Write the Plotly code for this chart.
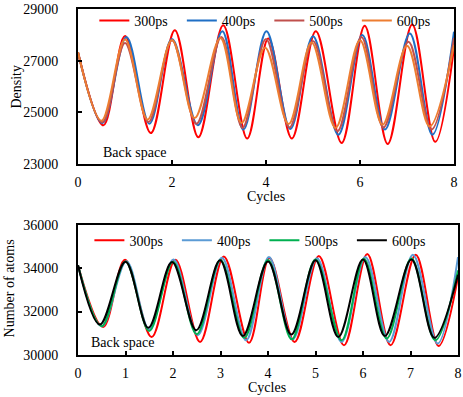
import plotly.graph_objects as go

# ---------------- Top panel: Density ----------------
top_names = ["300ps", "400ps", "500ps", "600ps"]
top_colors = ["#FF0000", "#1F6FC5", "#C0504D", "#ED7D31"]

top_x_300 = [0, 0.54, 1.0, 1.55, 2.06, 2.56, 3.09, 3.60, 4.05, 4.55, 5.06, 5.61, 6.10, 6.59, 7.11, 7.60, 8.0]
top_y_300 = [27330, 24500, 27960, 24200, 28180, 24040, 28370, 23990, 27860, 23990, 28140, 23820, 28350, 23780, 28400, 23860, 27500]

top_x_400 = [0, 0.52, 1.03, 1.52, 2.0, 2.55, 3.07, 3.52, 4.01, 4.52, 5.0, 5.54, 6.05, 6.53, 7.06, 7.54, 8.0]
top_y_400 = [27330, 24590, 27920, 24565, 27835, 24500, 28140, 24335, 28140, 24360, 27950, 24140, 27990, 24335, 28050, 24140, 28120]

top_x_500 = [0, 0.52, 1.0, 1.5, 2.0, 2.52, 3.05, 3.5, 4.0, 4.5, 5.0, 5.52, 6.03, 6.5, 7.03, 7.52, 8.0]
top_y_500 = [27330, 24620, 27680, 24630, 27795, 24560, 27920, 24400, 27835, 24420, 27760, 24270, 27920, 24420, 27730, 24335, 27880]

top_x_600 = [0, 0.5, 1.0, 1.48, 2.0, 2.48, 3.03, 3.48, 3.98, 4.48, 4.97, 5.48, 6.0, 6.48, 7.0, 7.48, 8.0]
top_y_600 = [27330, 24680, 27820, 24720, 27800, 24780, 27880, 24590, 27500, 24550, 27700, 24400, 27795, 24525, 27580, 24460, 27600]

top_xticks = [0, 2, 4, 6, 8]
top_xticklabels = ["0", "2", "4", "6", "8"]
top_yticks = [23000, 25000, 27000, 29000]
top_yticklabels = ["23000", "25000", "27000", "29000"]

# ---------------- Bottom panel: Number of atoms ----------------
bot_names = ["300ps", "400ps", "500ps", "600ps"]
bot_colors = ["#FF0000", "#5B9BD5", "#00B050", "#000000"]

bot_x_300 = [0, 0.53, 0.99, 1.55, 2.05, 2.57, 3.07, 3.60, 4.03, 4.56, 5.07, 5.60, 6.09, 6.58, 7.11, 7.59, 8.0]
bot_y_300 = [34130, 31290, 34390, 30830, 34390, 30600, 34540, 30560, 34470, 30600, 34560, 30450, 34650, 30450, 34620, 30420, 33600]

bot_x_400 = [0, 0.5, 1.02, 1.5, 2.01, 2.52, 3.03, 3.54, 4.02, 4.52, 5.03, 5.55, 6.05, 6.55, 7.05, 7.57, 8.0]
bot_y_400 = [34130, 31320, 34320, 31180, 34400, 30910, 34480, 30680, 34510, 30720, 34460, 30600, 34510, 30600, 34620, 30530, 34510]

bot_x_500 = [0, 0.5, 1.0, 1.5, 2.0, 2.5, 3.0, 3.5, 4.0, 4.5, 5.0, 5.55, 6.02, 6.5, 7.02, 7.52, 8.0]
bot_y_500 = [34130, 31330, 34310, 31110, 34300, 30955, 34380, 30790, 34380, 30720, 34400, 30680, 34430, 30760, 34450, 30680, 33900]

bot_x_600 = [0, 0.46, 1.0, 1.48, 1.98, 2.49, 2.99, 3.47, 4.0, 4.49, 5.0, 5.48, 6.0, 6.46, 7.02, 7.5, 8.0]
bot_y_600 = [34130, 31400, 34300, 31250, 34280, 31140, 34360, 30880, 34310, 30940, 34360, 30830, 34400, 30880, 34400, 30790, 33700]

bot_xticks = [0, 1, 2, 3, 4, 5, 6, 7, 8]
bot_xticklabels = ["0", "1", "2", "3", "4", "5", "6", "7", "8"]
bot_yticks = [30000, 32000, 34000, 36000]
bot_yticklabels = ["30000", "32000", "34000", "36000"]

FONT = "Liberation Serif, Times New Roman, serif"
W, H = 463, 397
ML, MR, MT, MB = 78, 5, 7, 42
PW, PH = W - ML - MR, H - MT - MB

# pixel layout helpers (paper fractions)
TOP_DOM = [(H - MB - 163) / PH, 1.0]
BOT_DOM = [0.0, (H - MB - 224) / PH]
TOP_XDOM = [0.0, (454 - ML) / PW]

fig = go.Figure()

top_series = [(top_x_300, top_y_300), (top_x_400, top_y_400), (top_x_500, top_y_500), (top_x_600, top_y_600)]
for (xs, ys), name, col in zip(top_series, top_names, top_colors):
    fig.add_trace(go.Scatter(x=xs, y=ys, name=name, mode="lines",
                             line=dict(color=col, width=2, shape="spline", smoothing=1.0),
                             xaxis="x", yaxis="y", legend="legend"))

bot_series = [(bot_x_300, bot_y_300), (bot_x_400, bot_y_400), (bot_x_500, bot_y_500), (bot_x_600, bot_y_600)]
for (xs, ys), name, col in zip(bot_series, bot_names, bot_colors):
    fig.add_trace(go.Scatter(x=xs, y=ys, name=name, mode="lines",
                             line=dict(color=col, width=2, shape="spline", smoothing=1.0),
                             xaxis="x2", yaxis="y2", legend="legend2"))

axis_common = dict(showline=True, linecolor="black", linewidth=2, mirror=True,
                   showgrid=False, zeroline=False, ticks="inside", ticklen=4,
                   tickwidth=2, tickcolor="black", automargin=False,
                   ticklabeloverflow="allow",
                   tickfont=dict(family=FONT, size=14, color="black"))

tfont = dict(family=FONT, size=14, color="black")

fig.update_layout(
    template="none",
    width=W, height=H,
    margin=dict(l=ML, r=MR, t=MT, b=MB),
    paper_bgcolor="white", plot_bgcolor="white",
    showlegend=True,
    xaxis=dict(domain=TOP_XDOM, range=[0, 8], tickmode="array", tickvals=top_xticks,
               ticktext=top_xticklabels, anchor="y", ticklabelstandoff=4, **axis_common),
    yaxis=dict(domain=TOP_DOM, range=[23000, 29000], tickmode="array", tickvals=top_yticks,
               ticktext=top_yticklabels, anchor="x", ticklabelstandoff=15, **axis_common),
    xaxis2=dict(domain=[0, 1], range=[0, 8], tickmode="array", tickvals=bot_xticks,
                ticktext=bot_xticklabels, anchor="y2", ticklabelstandoff=4, **axis_common),
    yaxis2=dict(domain=BOT_DOM, range=[30000, 36000], tickmode="array", tickvals=bot_yticks,
                ticktext=bot_yticklabels, anchor="x2", ticklabelstandoff=15, **axis_common),
    legend=dict(orientation="h", x=0.043, y=1.012, xanchor="left", yanchor="top",
                bgcolor="rgba(0,0,0,0)", font=tfont,
                entrywidth=42.5, tracegroupgap=0),
    legend2=dict(orientation="h", x=0.03, y=BOT_DOM[1], xanchor="left", yanchor="top",
                 bgcolor="rgba(0,0,0,0)", font=tfont,
                 entrywidth=42.5, tracegroupgap=0),
    annotations=[
        dict(text="Back space", x=0.48, y=23080, xref="x", yref="y", xanchor="left", yanchor="bottom",
             showarrow=False, font=tfont),
        dict(text="Back space", x=0.23, y=30150, xref="x2", yref="y2", xanchor="left", yanchor="bottom",
             showarrow=False, font=tfont),
        # axis titles
        dict(text="Cycles", x=(266 - ML) / PW, y=(H - MB - 196) / PH, xref="paper", yref="paper",
             xanchor="center", yanchor="middle", showarrow=False, font=tfont),
        dict(text="Density", x=(17 - ML) / PW, y=(H - MB - 85) / PH, xref="paper", yref="paper",
             xanchor="center", yanchor="middle", textangle=-90, showarrow=False, font=tfont),
        dict(text="Cycles", x=(267 - ML) / PW, y=(H - MB - 388) / PH, xref="paper", yref="paper",
             xanchor="center", yanchor="middle", showarrow=False, font=tfont),
        dict(text="Number of atoms", x=(9 - ML) / PW, y=(H - MB - 288) / PH, xref="paper", yref="paper",
             xanchor="center", yanchor="middle", textangle=-90, showarrow=False, font=tfont),
    ],
)

fig.write_html("out.html",
               config={"displayModeBar": False},
               post_script="document.body.style.margin='0';document.body.style.padding='0';document.body.style.overflow='hidden';")
